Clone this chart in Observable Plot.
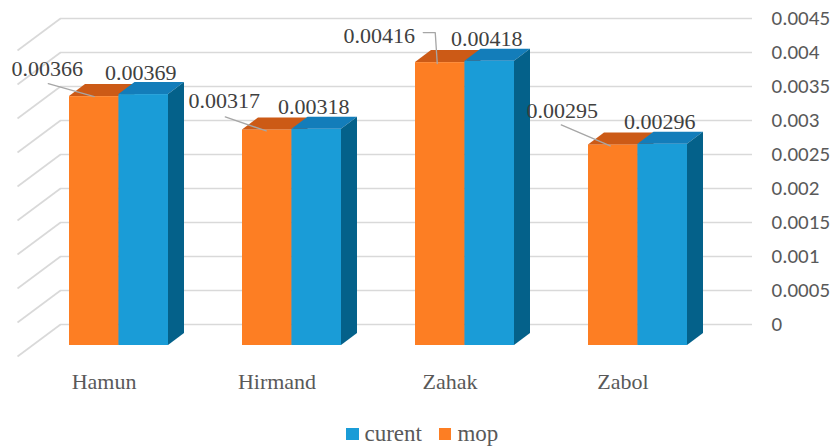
<!DOCTYPE html>
<html><head><meta charset="utf-8">
<script src="https://cdn.jsdelivr.net/npm/d3@7"></script>
<script src="https://cdn.jsdelivr.net/npm/@observablehq/plot@0.6"></script>
<style>
html,body{margin:0;padding:0;background:#fff;}
#wrap{position:relative;width:833px;height:447px;overflow:hidden;}
#legend{position:absolute;left:346px;top:421px;display:flex;align-items:center;font-family:'Liberation Serif', 'Times New Roman', serif;font-size:23px;color:#595959;line-height:26px;white-space:nowrap;}
#legend .item{display:flex;align-items:center;margin-right:17px;font-family:'Liberation Serif', 'Times New Roman', serif;}
#legend .sw{display:inline-block;width:12.5px;height:12.5px;margin-right:6px;}
</style></head><body>
<div id="wrap"><div id="chart"></div><div id="legend"></div></div>
<script>
// ---------- data ----------
const categories = ["Hamun", "Hirmand", "Zahak", "Zabol"];
const mop = [0.00366, 0.00317, 0.00416, 0.00295];
const curent = [0.00369, 0.00318, 0.00418, 0.00296];
const mopLabels = ["0.00366", "0.00317", "0.00416", "0.00295"];
const curentLabels = ["0.00369", "0.00318", "0.00418", "0.00296"];
const yTicks = [0, 0.0005, 0.001, 0.0015, 0.002, 0.0025, 0.003, 0.0035, 0.004, 0.0045];
const yTickLabels = ["0", "0.0005", "0.001", "0.0015", "0.002", "0.0025", "0.003", "0.0035", "0.004", "0.0045"];
const legendNames = ["curent", "mop"];

// ---------- layout & style ----------
const W = 833, H = 410, ML = 32, MR = 109, MT = 39, MB = 65;
const YMAX = 0.0045;
const PXX = (W - ML - MR) / categories.length;   // px per category unit
const PXY = (H - MT - MB) / YMAX;                 // px per value unit
const BACK = {dx: 28, dy: -21};    // back wall offset from bar front plane (px)
const FLOOR = {dx: -15, dy: 11};   // front floor edge offset (px)
const DEPTH = {dx: 16, dy: -12};   // bar depth (px)
const BW = 49.5 / PXX;             // bar width in category units
const ox = px => px / PXX;
const oy = py => -py / PXY;
const COLORS = {
  mop: {front: "#FD7E23", top: "#CC5A16", side: "#B04A10"},
  curent: {front: "#1A9CD7", top: "#137DBA", side: "#04618A"}
};
const GRID = "#d9d9d9";
const SERIF = "'Liberation Serif', 'Times New Roman', serif";
const SANS = "'Carlito', 'Calibri', 'Open Sans', sans-serif";
// mop label offset from orange bar top-front centre (px) and leader polylines
const mopLabelOffset = [[-47, -28], [-43, -29], [-61, -27], [-51, -34]];
const mopLeaders = [
  [[-46, -13], [0, 0]],
  [[-42, -13], [-1, 1]],
  [[-17, -30], [-5, -30], [-3, 1]],
  [[-52, -20], [-3, 1]]
];

// ---------- derived geometry ----------
function barsFor(series, values) {
  return categories.map((c, i) => {
    const x0 = series === "mop" ? i + 0.5 - BW : i + 0.5;
    return {id: series + i, idx: i, cat: c, x0, x1: x0 + BW, v: values[i]};
  });
}
const mopBars = barsFor("mop", mop);
const curBars = barsFor("curent", curent);
function topRows(bars) {
  return bars.flatMap(b => [
    {id: b.id, y: b.v, x1: b.x0, x2: b.x1},
    {id: b.id, y: b.v + oy(DEPTH.dy), x1: b.x0 + ox(DEPTH.dx), x2: b.x1 + ox(DEPTH.dx)}
  ]);
}
function sideRows(bars) {
  return bars.flatMap(b => [
    {id: b.id, x: b.x1, y1: 0, y2: b.v},
    {id: b.id, x: b.x1 + ox(DEPTH.dx), y1: oy(DEPTH.dy), y2: b.v + oy(DEPTH.dy)}
  ]);
}
function barMarks(bars, c) {
  return [
    Plot.rect(bars, {x1: "x0", x2: "x1", y1: () => 0, y2: "v", fill: c.front}),
    Plot.areaX(topRows(bars), {y: "y", x1: "x1", x2: "x2", z: "id", fill: c.top}),
    Plot.areaY(sideRows(bars), {x: "x", y1: "y1", y2: "y2", z: "id", fill: c.side})
  ];
}
const leaderRows = mopBars.flatMap((b, i) => mopLeaders[i].map(p => ({
  id: i, x: (b.x0 + b.x1) / 2 + ox(p[0]), y: b.v + oy(p[1])
})));

const chart = Plot.plot({
  width: W, height: H,
  marginLeft: ML, marginRight: MR, marginTop: MT, marginBottom: MB,
  x: {type: "linear", domain: [0, categories.length], axis: null},
  y: {type: "linear", domain: [0, YMAX], axis: null},
  style: {background: "white", overflow: "visible"},
  marks: [
    // back wall gridlines
    Plot.ruleY(yTicks, {y: d => d, x1: () => 0, x2: () => categories.length,
      dx: BACK.dx, dy: BACK.dy, stroke: GRID, strokeWidth: 1.6}),
    // side wall gridlines
    Plot.link(yTicks, {
      x1: () => ox(BACK.dx), y1: d => d + oy(BACK.dy),
      x2: () => ox(FLOOR.dx), y2: d => d + oy(FLOOR.dy),
      stroke: GRID, strokeWidth: 1.6}),
    // right axis labels
    Plot.text(yTicks, {x: () => categories.length, y: d => d, text: (d, i) => yTickLabels[i],
      dx: 47, dy: BACK.dy, textAnchor: "start", fontSize: 21,
      fontFamily: SANS, fill: "#595959"}),
    // bars
    ...barMarks(mopBars, COLORS.mop),
    ...barMarks(curBars, COLORS.curent),
    // category labels
    Plot.text(categories, {x: (d, i) => i + 0.5, y: () => 0, text: d => d,
      dx: FLOOR.dx, dy: 36, fontFamily: SERIF, fontSize: 22, fill: "#595959"}),
    // leader lines
    Plot.line(leaderRows, {x: "x", y: "y", z: "id", stroke: "#a6a6a6", strokeWidth: 1.3}),
    // mop data labels
    Plot.text(mopBars, {x: b => (b.x0 + b.x1) / 2 + ox(mopLabelOffset[b.idx][0]),
      y: b => b.v + oy(mopLabelOffset[b.idx][1]),
      text: b => mopLabels[b.idx], fontFamily: SERIF, fontSize: 22, fill: "#404040"}),
    // curent data labels
    Plot.text(curBars, {x: b => (b.x0 + b.x1) / 2, y: "v",
      text: b => curentLabels[b.idx], dx: -3, dy: -22,
      fontFamily: SERIF, fontSize: 22, fill: "#404040"})
  ]
});
document.getElementById("chart").appendChild(chart);

// legend
const legend = document.getElementById("legend");
legend.style.fontFamily = SERIF;
legendNames.forEach(n => {
  const item = document.createElement("span");
  item.className = "item";
  item.style.fontFamily = SERIF;
  const sw = document.createElement("span");
  sw.className = "sw";
  sw.style.background = COLORS[n].front;
  item.appendChild(sw);
  item.appendChild(document.createTextNode(n));
  legend.appendChild(item);
});
</script>
</body></html>
